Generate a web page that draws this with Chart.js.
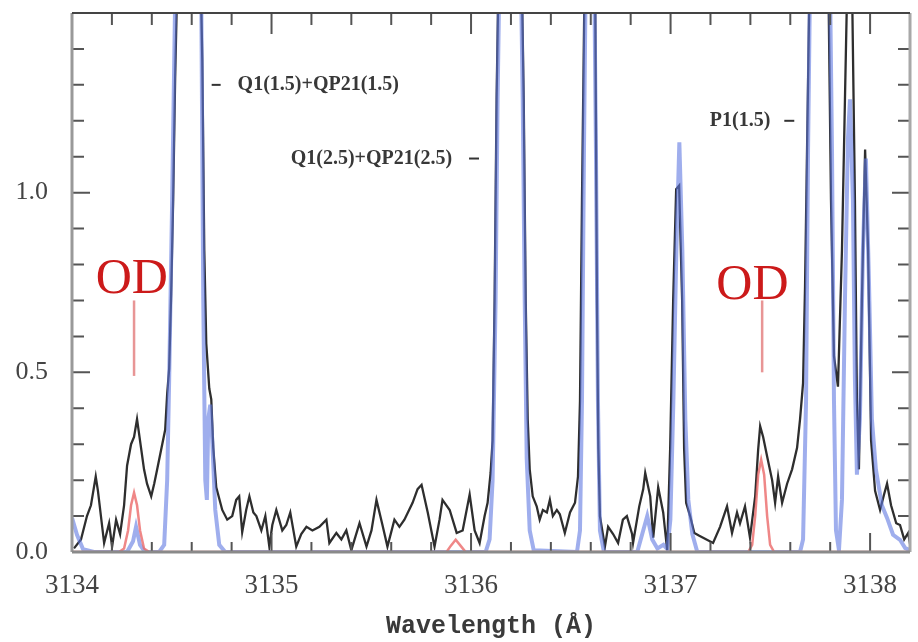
<!DOCTYPE html>
<html>
<head>
<meta charset="utf-8">
<script src="https://cdn.jsdelivr.net/npm/chart.js@4.4.0/dist/chart.umd.min.js"></script>
<style>
  body { margin: 0; background: #fff; }
  #wrap { width: 918px; height: 642px; }
</style>
</head>
<body>
<div id="wrap"><canvas id="spec" width="918" height="642"></canvas></div>
<script>
// observed spectrum (black)
const obsWave = [3134.010, 3134.045, 3134.075, 3134.095, 3134.119, 3134.130, 3134.161, 3134.186, 3134.201, 3134.221,
  3134.241, 3134.261, 3134.276, 3134.296, 3134.311, 3134.326, 3134.346, 3134.361, 3134.376, 3134.397,
  3134.412, 3134.427, 3134.447, 3134.467, 3134.477, 3134.487, 3134.497, 3134.507, 3134.517, 3134.537,
  3134.587, 3134.638, 3134.653, 3134.663, 3134.673, 3134.688, 3134.698, 3134.708, 3134.723, 3134.753,
  3134.778, 3134.803, 3134.823, 3134.838, 3134.853, 3134.873, 3134.889, 3134.909, 3134.924, 3134.949,
  3134.969, 3134.989, 3135.004, 3135.024, 3135.054, 3135.074, 3135.094, 3135.124, 3135.149, 3135.175,
  3135.205, 3135.240, 3135.275, 3135.290, 3135.325, 3135.350, 3135.375, 3135.400, 3135.441, 3135.476,
  3135.501, 3135.526, 3135.556, 3135.581, 3135.616, 3135.641, 3135.666, 3135.707, 3135.732, 3135.752,
  3135.783, 3135.817, 3135.842, 3135.857, 3135.893, 3135.928, 3135.958, 3135.993, 3136.018, 3136.043,
  3136.068, 3136.083, 3136.098, 3136.108, 3136.118, 3136.128, 3136.143, 3136.194, 3136.244, 3136.264,
  3136.274, 3136.284, 3136.294, 3136.309, 3136.329, 3136.344, 3136.360, 3136.380, 3136.395, 3136.410,
  3136.430, 3136.445, 3136.470, 3136.496, 3136.521, 3136.536, 3136.546, 3136.556, 3136.571, 3136.596,
  3136.621, 3136.631, 3136.638, 3136.646, 3136.671, 3136.687, 3136.712, 3136.737, 3136.761, 3136.781,
  3136.807, 3136.812, 3136.843, 3136.863, 3136.873, 3136.898, 3136.913, 3136.938, 3136.963, 3136.983,
  3136.998, 3137.013, 3137.028, 3137.043, 3137.058, 3137.068, 3137.078, 3137.098, 3137.119, 3137.144,
  3137.213, 3137.248, 3137.283, 3137.308, 3137.333, 3137.348, 3137.373, 3137.398, 3137.424, 3137.439,
  3137.449, 3137.464, 3137.484, 3137.509, 3137.524, 3137.539, 3137.559, 3137.584, 3137.609, 3137.634,
  3137.649, 3137.664, 3137.674, 3137.684, 3137.699, 3137.749, 3137.789, 3137.804, 3137.819, 3137.839,
  3137.859, 3137.874, 3137.889, 3137.909, 3137.924, 3137.934, 3137.944, 3137.959, 3137.975, 3137.990,
  3138.005, 3138.025, 3138.050, 3138.070, 3138.085, 3138.105, 3138.131, 3138.150, 3138.171, 3138.191, 3138.201]
const obsFlux = [0.01, 0.035, 0.10, 0.13, 0.21, 0.17, 0.025, 0.08, 0.015, 0.09,
  0.05, 0.13, 0.24, 0.30, 0.32, 0.37, 0.29, 0.23, 0.19, 0.155,
  0.19, 0.23, 0.285, 0.34, 0.44, 0.51, 0.72, 0.98, 1.32, 1.82,
  2.10, 1.80, 1.37, 0.84, 0.58, 0.455, 0.425, 0.29, 0.18, 0.117,
  0.09, 0.10, 0.145, 0.155, 0.055, 0.117, 0.155, 0.11, 0.10, 0.06,
  0.10, 0.015, 0.075, 0.117, 0.06, 0.075, 0.11, 0.015, 0.05, 0.07,
  0.06, 0.07, 0.09, 0.025, 0.053, 0.035, 0.06, 0.005, 0.08, 0.015,
  0.06, 0.145, 0.075, 0.015, 0.09, 0.07, 0.09, 0.137, 0.175, 0.187,
  0.11, 0.015, 0.09, 0.145, 0.117, 0.053, 0.06, 0.16, 0.06, 0.025,
  0.10, 0.137, 0.22, 0.31, 0.70, 1.26, 1.80, 2.30, 1.96, 1.26,
  0.70, 0.37, 0.23, 0.155, 0.127, 0.09, 0.117, 0.11, 0.145, 0.10,
  0.117, 0.105, 0.053, 0.11, 0.137, 0.21, 0.42, 0.98, 1.68, 2.10,
  1.68, 0.70, 0.29, 0.10, 0.015, 0.07, 0.05, 0.025, 0.09, 0.10,
  0.05, 0.025, 0.127, 0.175, 0.22, 0.155, 0.04, 0.18, 0.11, 0.005,
  0.29, 0.70, 1.01, 1.02, 0.70, 0.285, 0.137, 0.10, 0.053, 0.045,
  0.025, 0.07, 0.127, 0.053, 0.11, 0.08, 0.127, 0.04, 0.155, 0.285,
  0.35, 0.32, 0.266, 0.20, 0.137, 0.21, 0.137, 0.19, 0.23, 0.29,
  0.37, 0.47, 0.74, 1.12, 1.68, 2.30, 1.68, 0.98, 0.545, 0.46,
  0.84, 1.26, 1.68, 1.60, 0.98, 0.42, 0.23, 0.70, 1.12, 0.84,
  0.31, 0.17, 0.117, 0.16, 0.19, 0.13, 0.08, 0.075, 0.035, 0.053, 0.02]

// blue model
const blueWave = [3134.000, 3134.025, 3134.055, 3134.110, 3134.276, 3134.306, 3134.321, 3134.341, 3134.366, 3134.437,
  3134.462, 3134.477, 3134.487, 3134.502, 3134.517, 3134.562, 3134.613, 3134.648, 3134.658, 3134.668,
  3134.676, 3134.683, 3134.693, 3134.703, 3134.718, 3134.738, 3134.768, 3136.073, 3136.093, 3136.108,
  3136.123, 3136.133, 3136.148, 3136.194, 3136.244, 3136.259, 3136.269, 3136.279, 3136.294, 3136.314,
  3136.531, 3136.546, 3136.556, 3136.566, 3136.576, 3136.596, 3136.616, 3136.626, 3136.636, 3136.646,
  3136.666, 3136.833, 3136.858, 3136.883, 3136.908, 3136.934, 3136.964, 3136.984, 3136.999, 3137.014,
  3137.029, 3137.044, 3137.059, 3137.074, 3137.089, 3137.109, 3137.134, 3137.649, 3137.664, 3137.679,
  3137.689, 3137.704, 3137.749, 3137.794, 3137.809, 3137.819, 3137.829, 3137.844, 3137.859, 3137.874,
  3137.889, 3137.899, 3137.914, 3137.924, 3137.934, 3137.949, 3137.964, 3137.979, 3137.994, 3138.009,
  3138.029, 3138.059, 3138.085, 3138.115, 3138.150, 3138.176, 3138.201]
const blueFlux = [0.095, 0.048, 0.008, 0, 0, 0.03, 0.07, 0.02, 0, 0,
  0.02, 0.20, 0.48, 0.98, 1.54, 2.10, 2.10, 1.54, 0.70, 0.20,
  0.145, 0.37, 0.41, 0.31, 0.117, 0.02, 0, 0, 0.035, 0.20,
  0.70, 1.26, 1.82, 2.40, 1.82, 1.26, 0.70, 0.26, 0.06, 0.005,
  0, 0.06, 0.42, 1.12, 1.68, 2.10, 1.68, 1.12, 0.42, 0.06,
  0, 0, 0.05, 0.10, 0.035, 0.01, 0.02, 0.008, 0.09, 0.42,
  0.84, 1.14, 0.84, 0.37, 0.145, 0.05, 0, 0, 0.035, 0.42,
  1.12, 1.82, 2.40, 1.82, 1.12, 0.42, 0.06, 0.005, 0.145, 0.70,
  1.15, 1.26, 0.98, 0.48, 0.215, 0.37, 0.84, 1.095, 0.76, 0.37,
  0.23, 0.13, 0.095, 0.048, 0.034, 0.011, 0.005]

// red OD model
const redWave = [3134.000, 3134.236, 3134.261, 3134.281, 3134.296, 3134.311, 3134.326, 3134.341, 3134.361, 3134.387,
  3135.877, 3135.898, 3135.923, 3135.948, 3135.973, 3137.389, 3137.409, 3137.424, 3137.439, 3137.454,
  3137.469, 3137.484, 3137.499, 3137.519, 3138.200]
const redFlux = [0, 0, 0.01, 0.06, 0.13, 0.165, 0.13, 0.06, 0.01, 0,
  0, 0.017, 0.034, 0.017, 0, 0, 0.02, 0.10, 0.215, 0.257,
  0.215, 0.10, 0.02, 0, 0]

const xTickLabels = [3134, 3135, 3136, 3137, 3138]
const yTickLabels = [0, 0.5, 1.0]

// OD markers: text centre, text baseline, line position and extent
const odMarks = [
  { textX: 3134.30, textY: 0.722, lineX: 3134.311, lineFrom: 0.49, lineTo: 0.70 },
  { textX: 3137.41, textY: 0.705, lineX: 3137.459, lineFrom: 0.50, lineTo: 0.70 }
]
// line identifications
const lineIds = [
  { text: 'Q1(1.5)+QP21(1.5)', x: 3134.83, y: 1.30, dash: [3134.70, 3134.745], align: 'left' },
  { text: 'Q1(2.5)+QP21(2.5)', x: 3135.905, y: 1.095, dash: [3135.99, 3136.04], align: 'right' },
  { text: 'P1(1.5)', x: 3137.50, y: 1.20, dash: [3137.57, 3137.62], align: 'right' }
]

const toXY = (w, f) => w.map((v, i) => ({ x: v, y: f[i] }))

const frame = {
  id: 'frame',
  afterDatasetsDraw(chart) {
    const ctx = chart.ctx
    const a = chart.chartArea
    const x = chart.scales.x
    const y = chart.scales.y
    ctx.save()

    // red OD markers
    odMarks.forEach(m => {
      ctx.strokeStyle = 'rgba(228,130,130,0.85)'
      ctx.lineWidth = 2.5
      ctx.beginPath()
      ctx.moveTo(x.getPixelForValue(m.lineX), y.getPixelForValue(m.lineFrom))
      ctx.lineTo(x.getPixelForValue(m.lineX), y.getPixelForValue(m.lineTo))
      ctx.stroke()
      ctx.fillStyle = '#cc1a1a'
      ctx.font = '50px "Liberation Serif"'
      ctx.textAlign = 'center'
      ctx.textBaseline = 'alphabetic'
      ctx.fillText('OD', x.getPixelForValue(m.textX), y.getPixelForValue(m.textY))
    })

    // identifications
    lineIds.forEach(l => {
      ctx.fillStyle = '#383838'
      ctx.font = 'bold 20px "Liberation Serif"'
      ctx.textAlign = l.align
      ctx.textBaseline = 'middle'
      ctx.fillText(l.text, x.getPixelForValue(l.x), y.getPixelForValue(l.y))
      ctx.strokeStyle = '#333'
      ctx.lineWidth = 2
      ctx.beginPath()
      ctx.moveTo(x.getPixelForValue(l.dash[0]), y.getPixelForValue(l.y))
      ctx.lineTo(x.getPixelForValue(l.dash[1]), y.getPixelForValue(l.y))
      ctx.stroke()
    })

    // inward ticks
    ctx.strokeStyle = '#555'
    ctx.lineWidth = 2
    ctx.beginPath()
    for (let i = 1; i < 21; i++) {
      const px = x.getPixelForValue(3134 + i * 0.2)
      const len = i % 5 == 0 ? 21 : 12
      ctx.moveTo(px, a.top); ctx.lineTo(px, a.top + len)
      ctx.moveTo(px, a.bottom); ctx.lineTo(px, a.bottom - len + 2)
    }
    for (let i = 1; i < 15; i++) {
      const py = y.getPixelForValue(i * 0.1)
      const len = i % 5 == 0 ? 18 : 12
      ctx.moveTo(a.left, py); ctx.lineTo(a.left + len, py)
      ctx.moveTo(a.right, py); ctx.lineTo(a.right - len, py)
    }
    ctx.stroke()

    // frame
    ctx.lineWidth = 3
    ctx.strokeStyle = '#999'
    ctx.beginPath(); ctx.moveTo(a.left, a.top); ctx.lineTo(a.left, a.bottom); ctx.stroke()
    ctx.strokeStyle = '#a8a8a8'
    ctx.beginPath(); ctx.moveTo(a.right, a.top); ctx.lineTo(a.right, a.bottom); ctx.stroke()
    ctx.strokeStyle = '#8a8a8a'
    ctx.beginPath(); ctx.moveTo(a.left, a.bottom); ctx.lineTo(a.right, a.bottom); ctx.stroke()
    ctx.lineWidth = 2
    ctx.strokeStyle = '#444'
    ctx.beginPath(); ctx.moveTo(a.left, a.top); ctx.lineTo(a.right, a.top); ctx.stroke()
    ctx.restore()
  }
}

const config = {
  type: 'line',
  data: {
    datasets: [
      {
        label: 'OD model',
        data: toXY(redWave, redFlux),
        borderColor: 'rgba(235,105,105,0.8)',
        borderWidth: 2.5,
        order: 1
      },
      {
        label: 'model',
        data: toXY(blueWave, blueFlux),
        borderColor: 'rgba(95,120,225,0.6)',
        borderWidth: 4,
        order: 2
      },
      {
        label: 'observed',
        data: toXY(obsWave, obsFlux),
        borderColor: '#2e2e2e',
        borderWidth: 2.3,
        order: 3
      }
    ]
  },
  options: {
    responsive: false,
    animation: false,
    elements: { point: { radius: 0 }, line: { tension: 0 } },
    layout: { padding: { top: 13, right: 8, left: 0, bottom: 0 } },
    plugins: { legend: { display: false }, tooltip: { enabled: false } },
    scales: {
      x: {
        type: 'linear',
        min: 3134,
        max: 3138.2,
        grid: { display: false },
        border: { display: false },
        afterBuildTicks: s => { s.ticks = xTickLabels.map(v => ({ value: v })) },
        afterFit: s => { s.height = 90; s.paddingLeft = 0; s.paddingRight = 0 },
        ticks: {
          padding: 10,
          maxRotation: 0,
          color: '#444',
          font: { family: 'Liberation Serif', size: 27 },
          callback: v => String(v)
        },
        title: {
          display: true,
          text: 'Wavelength (Å)',
          color: '#3a3a3a',
          font: { family: 'Liberation Mono', size: 25, weight: 'bold' },
          padding: { top: 0, bottom: 0 }
        }
      },
      y: {
        min: 0,
        max: 1.5,
        grid: { display: false },
        border: { display: false },
        afterBuildTicks: s => { s.ticks = yTickLabels.map(v => ({ value: v })) },
        afterFit: s => { s.width = 72; s.paddingTop = 0; s.paddingBottom = 0 },
        ticks: {
          padding: 16,
          color: '#444',
          font: { family: 'Liberation Serif', size: 26 },
          callback: v => v.toFixed(1)
        }
      }
    }
  },
  plugins: [frame]
}

const myChart = new Chart(document.getElementById('spec'), config)
</script>
</body>
</html>
